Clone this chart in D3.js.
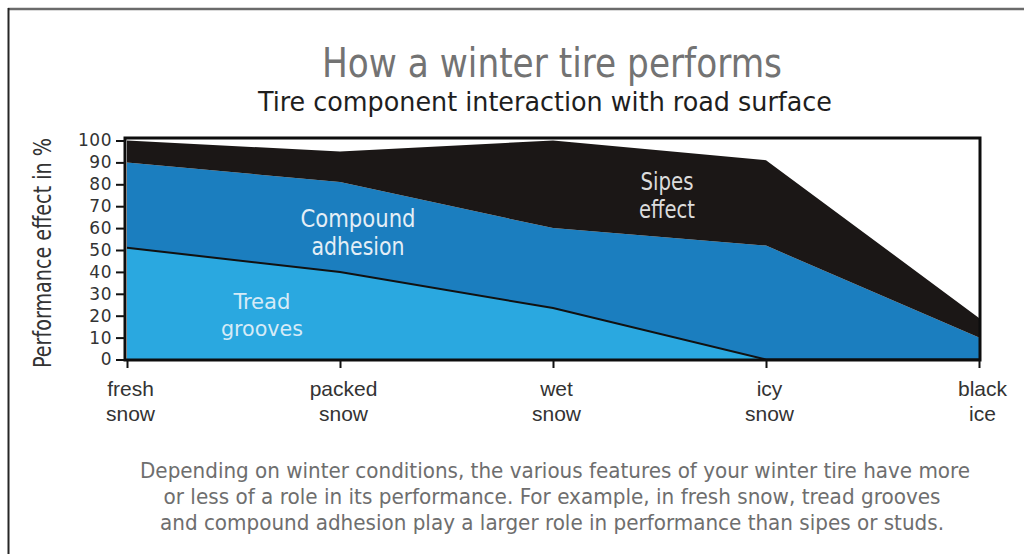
<!DOCTYPE html>
<html>
<head>
<meta charset="utf-8">
<script src="https://cdn.jsdelivr.net/npm/d3@7"></script>
<style>
  html, body { margin: 0; padding: 0; background: #ffffff; }
  svg { display: block; }
  text { font-family: "Liberation Sans Narrow", "DejaVu Sans Condensed", "Liberation Sans", sans-serif; }
</style>
</head>
<body>
<svg id="chart" width="1024" height="554"></svg>
<script>
// ---- data ----
const categories = ["fresh snow", "packed snow", "wet snow", "icy snow", "black ice"];
const treadGrooves = [51, 40, 23.5, 0, 0];        // bottom layer
const compoundAdhesion = [39, 41, 36.5, 52, 10];  // middle layer (stacked)
const sipesEffect = [10, 14, 40, 39, 9];          // top layer (stacked)
const yTicks = [0, 10, 20, 30, 40, 50, 60, 70, 80, 90, 100];
const layerKeys = ["tread", "compound", "sipes"];
const layerLabels = {
  tread: ["Tread", "grooves"],
  compound: ["Compound", "adhesion"],
  sipes: ["Sipes", "effect"]
};
const titleText = "How a winter tire performs";
const subtitleText = "Tire component interaction with road surface";
const yAxisTitle = "Performance effect in %";
const footnote = [
  "Depending on winter conditions, the various features of your winter tire have more",
  "or less of a role in its performance.  For example, in fresh snow, tread grooves",
  "and compound adhesion play a larger role in performance than sipes or studs."
];

// ---- table built from arrays ----
const rows = categories.map((c, i) => ({
  cat: c, tread: treadGrooves[i], compound: compoundAdhesion[i], sipes: sipesEffect[i]
}));

const svg = d3.select("#chart");

// outer page frame
svg.append("line").attr("x1", 8).attr("x2", 1024).attr("y1", 9).attr("y2", 9)
  .attr("stroke", "#6b6b6b").attr("stroke-width", 2.5);
svg.append("line").attr("x1", 8.5).attr("x2", 8.5).attr("y1", 8).attr("y2", 554)
  .attr("stroke", "#262626").attr("stroke-width", 2);

// titles
svg.append("text").attr("x", 552).attr("y", 77).attr("text-anchor", "middle")
  .attr("font-size", 40).attr("fill", "#737373")
  .attr("textLength", 460).attr("lengthAdjust", "spacingAndGlyphs")
  .text(titleText);
svg.append("text").attr("x", 545).attr("y", 111).attr("text-anchor", "middle")
  .attr("font-size", 27).attr("fill", "#1e1e1e")
  .attr("textLength", 574).attr("lengthAdjust", "spacingAndGlyphs")
  .text(subtitleText);

// plot geometry
const plot = { left: 125, right: 980, top: 138, bottom: 360 };
const x = d3.scalePoint().domain(categories).range([127, 979]);
const y = d3.scaleLinear().domain([0, 100]).range([359.5, 140.5]);

const colors = { tread: "#2aa8e0", compound: "#1b7ebf", sipes: "#1b1716" };

const stack = d3.stack().keys(layerKeys);
const series = stack(rows);

svg.append("clipPath").attr("id", "plotclip")
  .append("rect").attr("x", plot.left).attr("y", plot.top)
  .attr("width", plot.right - plot.left).attr("height", plot.bottom - plot.top);

const area = d3.area()
  .x(d => x(d.data.cat))
  .y0(d => y(d[0]))
  .y1(d => y(d[1]));

const g = svg.append("g").attr("clip-path", "url(#plotclip)");
g.selectAll("path.layer").data(series).join("path")
  .attr("class", "layer")
  .attr("d", area)
  .attr("fill", d => colors[d.key]);

// tread grooves boundary line
const line = d3.line().x(d => x(d.cat)).y(d => y(d.tread));
g.append("path").datum(rows).attr("d", line)
  .attr("fill", "none").attr("stroke", "#111").attr("stroke-width", 2);

// layer labels
const labelPos = {
  tread: { cx: 262, y: 309, lh: 27, w: [57, 82], fill: "#d6ebf7", fs: 22 },
  compound: { cx: 358, y: 227, lh: 28, w: [115, 93], fill: "#e4eef6", fs: 24 },
  sipes: { cx: 667, y: 190, lh: 28, w: [53, 56], fill: "#dcdcdc", fs: 24 }
};
layerKeys.forEach(k => {
  const p = labelPos[k];
  layerLabels[k].forEach((t, i) => {
    svg.append("text").attr("x", p.cx).attr("y", p.y + i * p.lh)
      .attr("text-anchor", "middle").attr("font-size", p.fs).attr("fill", p.fill)
      .attr("textLength", p.w[i]).attr("lengthAdjust", "spacingAndGlyphs")
      .text(t);
  });
});

// plot frame
svg.append("rect").attr("x", plot.left).attr("y", plot.top)
  .attr("width", plot.right - plot.left).attr("height", plot.bottom - plot.top)
  .attr("fill", "none").attr("stroke", "#0d0d0d").attr("stroke-width", 3);

// y axis
const yAxis = svg.append("g").attr("transform", `translate(${plot.left},0)`)
  .call(d3.axisLeft(y).tickValues(yTicks).tickSize(9).tickPadding(4));
yAxis.select(".domain").remove();
yAxis.selectAll(".tick line").attr("stroke", "#111").attr("stroke-width", 2);
yAxis.selectAll(".tick text")
  .style("font-family", "'DejaVu Sans', sans-serif")
  .attr("font-size", 17).attr("fill", "#333").attr("letter-spacing", 0.5);

// y axis title
svg.append("text")
  .attr("transform", "translate(51,253) rotate(-90)")
  .attr("text-anchor", "middle").attr("font-size", 24).attr("fill", "#333")
  .attr("textLength", 230).attr("lengthAdjust", "spacingAndGlyphs")
  .text(yAxisTitle);

// x axis
const xAxis = svg.append("g").attr("transform", `translate(0,${plot.bottom})`)
  .call(d3.axisBottom(x).tickSize(8).tickFormat(""));
xAxis.select(".domain").remove();
xAxis.selectAll(".tick line").attr("stroke", "#111").attr("stroke-width", 2);
xAxis.selectAll(".tick").each(function(d) {
  const parts = d.split(" ");
  const t = d3.select(this).append("text")
    .attr("text-anchor", "middle").attr("fill", "#333")
    .style("font-family", "'Liberation Sans', sans-serif")
    .attr("font-size", 21);
  parts.forEach((p, i) => {
    t.append("tspan").attr("x", 3).attr("y", 36 + i * 25).text(p);
  });
});

// footnote
footnote.forEach((t, i) => {
  const widths = [830, 777, 784];
  const cxs = [555, 552, 552];
  svg.append("text").attr("x", cxs[i]).attr("y", 478 + i * 26)
    .attr("text-anchor", "middle").attr("font-size", 21).attr("fill", "#6e6e6e")
    .attr("textLength", widths[i]).attr("lengthAdjust", "spacingAndGlyphs")
    .text(t);
});
</script>
</body>
</html>
